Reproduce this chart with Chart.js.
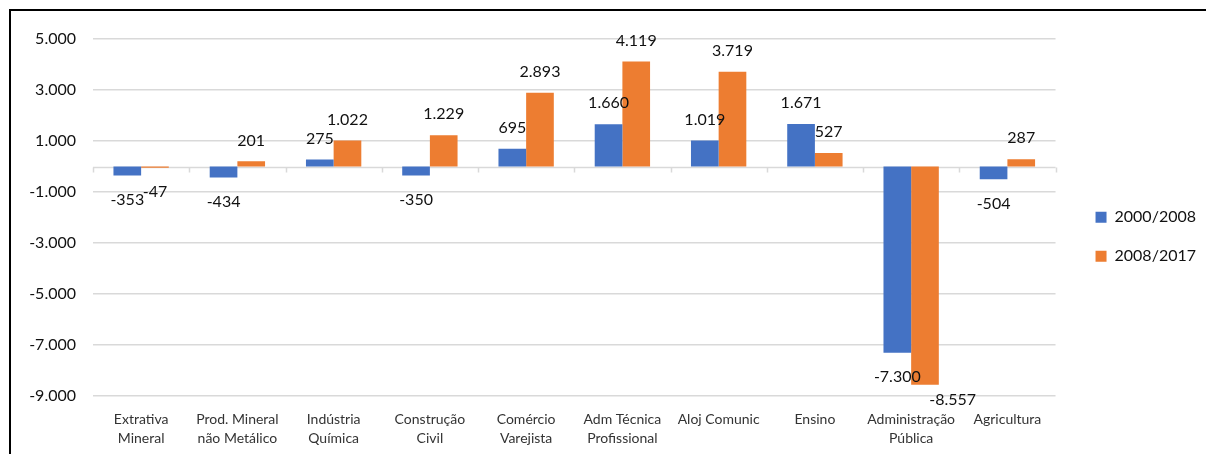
<!DOCTYPE html>
<html><head><meta charset="utf-8">
<script src="https://cdn.jsdelivr.net/npm/chart.js@4.4.1/dist/chart.umd.min.js"></script>
<style>
html,body{margin:0;padding:0;background:#fff;}
#wrap{position:relative;width:1206px;height:454px;overflow:hidden;background:#fff;}
#c{position:absolute;left:0;top:0;}
#frame{position:absolute;left:9px;top:9px;width:1300px;height:500px;border-left:2px solid #000;border-top:2px solid #000;pointer-events:none;}
</style></head><body>
<div id="wrap"><canvas id="c" width="1206" height="454"></canvas><div id="frame"></div></div>
<script>
const categories = [
  ['Extrativa','Mineral'],
  ['Prod. Mineral','não Metálico'],
  ['Indústria','Química'],
  ['Construção','Civil'],
  ['Comércio','Varejista'],
  ['Adm Técnica','Profissional'],
  'Aloj Comunic',
  'Ensino',
  ['Administração','Pública'],
  'Agricultura'
];
const series2000_2008 = [-353, -434, 275, -350, 695, 1660, 1019, 1671, -7300, -504];
const series2008_2017 = [-47, 201, 1022, 1229, 2893, 4119, 3719, 527, -8557, 287];
const seriesNames = ['2000/2008', '2008/2017'];
const yMin = -9000;
const yMax = 5000;
const yStep = 2000;

function fmt(v){
  const s = Math.abs(Math.round(v)).toString().replace(/\B(?=(\d{3})+(?!\d))/g, '.');
  return (v < 0 ? '-' : '') + s;
}

const FONT = 'Lato, "Open Sans", sans-serif';

const zeroLine = {
  id: 'zeroLine',
  beforeDatasetsDraw(chart){
    const {ctx, chartArea} = chart;
    const x = chart.scales.x, y = chart.scales.y;
    const y0 = Math.round(y.getPixelForValue(0)) + 0.5;
    ctx.save();
    ctx.strokeStyle = '#d9d9d9';
    ctx.lineWidth = 1.5;
    ctx.beginPath();
    ctx.moveTo(chartArea.left, y0);
    ctx.lineTo(chartArea.right, y0);
    for (let i = 0; i <= categories.length; i++) {
      const xb = Math.round(x.getPixelForValue(i - 0.5)) + 0.5;
      ctx.moveTo(xb, y0);
      ctx.lineTo(xb, y0 + 5);
    }
    ctx.stroke();
    ctx.restore();
  }
};

const valueLabels = {
  id: 'valueLabels',
  afterDatasetsDraw(chart){
    const {ctx, chartArea} = chart;
    ctx.save();
    ctx.font = '16px ' + FONT;
    ctx.fillStyle = '#111';
    ctx.textAlign = 'center';
    ctx.textBaseline = 'middle';
    chart.data.datasets.forEach((ds, di) => {
      const meta = chart.getDatasetMeta(di);
      meta.data.forEach((bar, i) => {
        const v = ds.data[i];
        let px = bar.x, py;
        if (v >= 0) {
          py = bar.y - 21;
        } else {
          py = bar.y + 24;
          if (py > chartArea.bottom + 4) { py = chartArea.bottom + 4; px += bar.width; }
        }
        ctx.fillText(fmt(v), px, py);
      });
    });
    ctx.restore();
  }
};

new Chart(document.getElementById('c'), {
  type: 'bar',
  data: {
    labels: categories,
    datasets: [
      {label: seriesNames[0], data: series2000_2008, backgroundColor: '#4472C4', borderWidth: 0},
      {label: seriesNames[1], data: series2008_2017, backgroundColor: '#ED7D31', borderWidth: 0}
    ]
  },
  options: {
    responsive: false,
    animation: false,
    datasets: {bar: {categoryPercentage: 0.575, barPercentage: 1}},
    layout: {padding: {top: 39, bottom: 0, right: 0, left: 0}},
    plugins: {
      legend: {
        position: 'right',
        align: 'start',
        title: {display: true, text: '', font: {family: FONT, size: 16, lineHeight: 1.2}, padding: {top: 64, bottom: 64}},
        labels: {boxWidth: 11, boxHeight: 11, padding: 23, color: '#111', font: {family: FONT, size: 16}}
      },
      tooltip: {enabled: false}
    },
    scales: {
      x: {
        grid: {display: false, drawTicks: false},
        border: {display: false},
        ticks: {font: {family: FONT, size: 14, lineHeight: 1.35}, color: '#333', maxRotation: 0, minRotation: 0, autoSkip: false, padding: 14},
        afterFit: s => { s.height = 58; }
      },
      y: {
        min: yMin, max: yMax,
        grid: {color: '#d9d9d9', lineWidth: 1.5, drawTicks: false},
        border: {display: false},
        ticks: {stepSize: yStep, padding: 17, color: '#111', font: {family: FONT, size: 16}, callback: v => fmt(v)},
        afterFit: s => { s.width = 93; }
      },
      y2: {
        position: 'right', display: true,
        grid: {display: false, drawTicks: false},
        border: {display: false},
        ticks: {display: false},
        afterFit: s => { s.width = 17; }
      }
    }
  },
  plugins: [zeroLine, valueLabels]
});
</script>
</body></html>
